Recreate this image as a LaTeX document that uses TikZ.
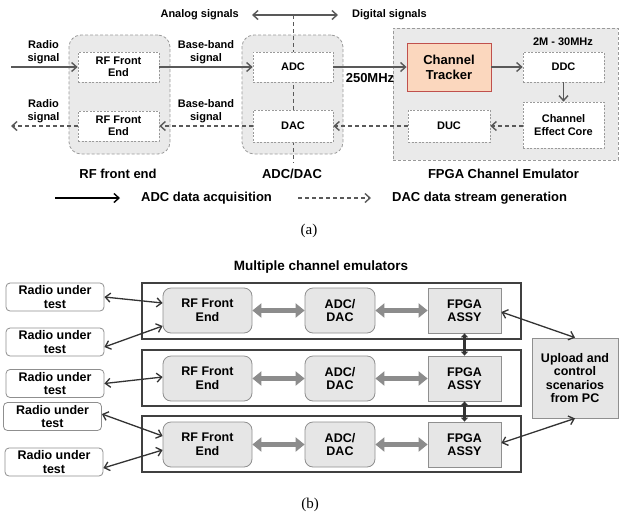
\documentclass[tikz,border=0pt]{standalone}
\usepackage{fontspec}
\setmainfont{Liberation Sans}
\newfontfamily\capfont{Liberation Serif}
\usetikzlibrary{arrows.meta,calc}
\definecolor{arr}{HTML}{595959}
\definecolor{grpfill}{HTML}{EAEAEA}
\definecolor{grpdraw}{HTML}{9A9A9A}
\definecolor{ctfill}{HTML}{FBD7BE}
\definecolor{ctdraw}{HTML}{C0504D}
\definecolor{bfill}{HTML}{E6E6E6}
\definecolor{bdraw}{HTML}{8F8F8F}
\definecolor{thickc}{HTML}{8C8C8C}
\definecolor{cont}{HTML}{404040}
\definecolor{darkarr}{HTML}{333333}
\begin{document}
\begin{tikzpicture}[x=1pt,y=-1pt,
  every node/.style={font=\bfseries\fontsize{11}{12.5}\selectfont, align=center, inner sep=0pt},
  grp/.style={draw=grpdraw, fill=grpfill, dash pattern=on 3pt off 2pt, rounded corners=12pt, line width=0.8pt},
  dbox/.style={draw=grpdraw, fill=white, dash pattern=on 2pt off 1.5pt, line width=0.7pt},
  bigl/.style={font=\bfseries\fontsize{13}{15}\selectfont},
  sig/.style={draw=arr, line width=1.4pt, -{Straight Barb[length=5pt,width=9pt]}},
  dsig/.style={sig, dash pattern=on 4pt off 3pt},
  bfont/.style={font=\bfseries\fontsize{12.5}{13.5}\selectfont},
  rbox/.style={bfont, draw=bdraw, fill=bfill, rounded corners=8pt, line width=0.8pt, minimum height=45pt},
  fbox/.style={bfont, draw=bdraw, fill=bfill, line width=0.8pt, minimum height=45pt, minimum width=73pt},
  radio/.style={bfont, draw=bdraw, fill=white, rounded corners=4pt, line width=0.8pt, minimum width=98pt, minimum height=28pt},
  contb/.style={draw=cont, line width=1.2pt},
  link/.style={draw=darkarr, line width=1.3pt, {Straight Barb[length=5pt,width=9pt]}-{Straight Barb[length=5pt,width=9pt]}},
  fat/.style={draw=thickc, line width=5pt, {Triangle[length=9pt,width=14pt]}-{Triangle[length=9pt,width=14pt]}},
  vfat/.style={draw=darkarr, line width=2.5pt, {Triangle[length=4pt,width=7pt]}-{Triangle[length=4pt,width=7pt]}}
]
\useasboundingbox (0,0) rectangle (619,515);

% ---------- part (a) ----------
\node[grp, minimum width=101pt, minimum height=119pt] (rfg) at (119.5,94.5) {};
\node[grp, minimum width=101pt, minimum height=119pt] (adg) at (292.5,94.5) {};
\node[draw=grpdraw, fill=grpfill, dash pattern=on 3pt off 2pt, line width=0.8pt, minimum width=225pt, minimum height=132pt] (fpg) at (505.5,94) {};

\coordinate (vt) at (293,15);
\coordinate (vb) at (293,163);
\draw[draw=arr, line width=1pt, dash pattern=on 4pt off 3pt] (vt) -- (vb);

\node[dbox, minimum width=81pt, minimum height=30pt] (rf1) at (118.5,67) {RF Front\\End};
\node[dbox, minimum width=81pt, minimum height=30pt] (rf2) at (118.5,126) {RF Front\\End};
\node[dbox, minimum width=80pt, minimum height=30pt] (adc) at (293,67) {ADC};
\node[dbox, minimum width=80pt, minimum height=32pt] (dac) at (293,126) {DAC};
\node[bigl, draw=ctdraw, fill=ctfill, line width=0.9pt, minimum width=84pt, minimum height=48pt] (ct) at (449,67) {Channel\\Tracker};
\node[dbox, minimum width=81pt, minimum height=30pt] (ddc) at (563.5,67) {DDC};
\node[dbox, minimum width=81pt, minimum height=46pt] (cec) at (563.5,125) {Channel\\Effect Core};
\node[dbox, minimum width=82pt, minimum height=32pt] (duc) at (449,126) {DUC};

\node[anchor=east] (an) at (239,15) {Analog signals};
\node[anchor=west] (dg) at (352,15) {Digital signals};
\coordinate (al) at (252,15);
\coordinate (dr) at (338,15);
\draw[sig] (vt) -- (al);
\draw[sig] (vt) -- (dr);

\node (rs1) at (43.5,52) {Radio\\signal};
\node (bb1) at (206,52) {Base-band\\signal};
\node (rs2) at (43.5,111) {Radio\\signal};
\node (bb2) at (206,111) {Base-band\\signal};
\node[bigl] (mhz) at (370,78) {250MHz};
\node (band) at (563,42) {2M - 30MHz};

\coordinate (rin) at (11,67);
\coordinate (rout) at (11,126);
\draw[sig] (rin) -- (rf1.west);
\draw[sig] (rf1.east) -- (adc.west);
\draw[sig] (adc.east) -- (ct.west);
\draw[sig] (ct.east) -- (ddc.west);
\draw[sig] (ddc.south) -- (cec.north);
\draw[dsig] (cec.west |- duc) -- (duc.east);
\draw[dsig] (duc.west) -- (dac.east);
\draw[dsig] (dac.west) -- (rf2.east);
\draw[dsig] (rf2.west) -- (rout);

\node[bigl] (l1) at (118,174) {RF front end};
\node[bigl] (l2) at (292,174) {ADC/DAC};
\node[bigl] (l3) at (503.5,174) {FPGA Channel Emulator};

% legend
\coordinate (g1a) at (55,198);
\coordinate (g1b) at (120,198);
\coordinate (g2a) at (298,198);
\coordinate (g2b) at (371,198);
\draw[line width=1.4pt, draw=black, -{Straight Barb[length=5pt,width=9pt]}] (g1a) -- (g1b);
\draw[dsig] (g2a) -- (g2b);
\node[bigl, anchor=west] (t1) at (141,198) {ADC data acquisition};
\node[bigl, anchor=west] (t2) at (392,198) {DAC data stream generation};

\node[font=\capfont\fontsize{15}{17}\selectfont] (capa) at (309,231) {(a)};

% ---------- part (b) ----------
\node[font=\bfseries\fontsize{13.5}{15}\selectfont] (title) at (321,267) {Multiple channel emulators};

\node[contb, minimum width=379pt, minimum height=56pt] (c1) at (331.5,311) {};
\node[contb, minimum width=379pt, minimum height=56pt] (c2) at (331.5,378) {};
\node[contb, minimum width=379pt, minimum height=56pt] (c3) at (331.5,444) {};

\node[rbox, minimum width=89pt] (rfa) at (207.5,310.5) {RF Front\\End};
\node[rbox, minimum width=89pt] (rfb) at (207.5,378.5) {RF Front\\End};
\node[rbox, minimum width=89pt] (rfc) at (207.5,444.5) {RF Front\\End};
\node[rbox, minimum width=70pt] (ada) at (340,310.5) {ADC/\\DAC};
\node[rbox, minimum width=70pt] (adb) at (340,378.5) {ADC/\\DAC};
\node[rbox, minimum width=70pt] (adcc) at (340,444.5) {ADC/\\DAC};
\node[fbox] (fa) at (464.5,310.5) {FPGA\\ASSY};
\node[fbox] (fb) at (464.5,378.5) {FPGA\\ASSY};
\node[fbox] (fc) at (464.5,444.5) {FPGA\\ASSY};

\node[bfont, draw=bdraw, fill=bfill, line width=0.8pt, minimum width=86pt, minimum height=80pt] (up) at (575,378) {Upload and\\control\\scenarios\\from PC};

\node[radio] (r1) at (55,297) {Radio under\\test};
\node[radio] (r2) at (55,342) {Radio under\\test};
\node[radio] (r3) at (55,383.5) {Radio under\\test};
\node[radio] (r4) at (52.5,416.5) {Radio under\\test};
\node[radio] (r5) at (54,462) {Radio under\\test};

\draw[link] (r1.east) -- ([yshift=7.5pt]rfa.west);
\draw[link] ([yshift=-5pt]r2.east) -- ([yshift=-15.5pt]rfa.west);
\draw[link] (r3.east) -- ([yshift=1.5pt]rfb.west);
\draw[link] ([yshift=2.5pt]r4.east) -- ([yshift=8.5pt]rfc.west);
\draw[link] ([yshift=-6pt]r5.east) -- ([yshift=-5.5pt]rfc.west);

\draw[fat] (rfa.east) -- (ada.west);
\draw[fat] (ada.east) -- (fa.west);
\draw[fat] (rfb.east) -- (adb.west);
\draw[fat] (adb.east) -- (fb.west);
\draw[fat] (rfc.east) -- (adcc.west);
\draw[fat] (adcc.east) -- (fc.west);

\draw[vfat] (fa.south) -- (fb.north);
\draw[vfat] (fb.south) -- (fc.north);

\draw[link] ([yshift=-1.5pt]fa.east) -- (up.north);
\draw[link] ([yshift=1.5pt]fc.east) -- (up.south);

\node[font=\capfont\fontsize{15}{17}\selectfont] (capb) at (310,505) {(b)};
\end{tikzpicture}
\end{document}
